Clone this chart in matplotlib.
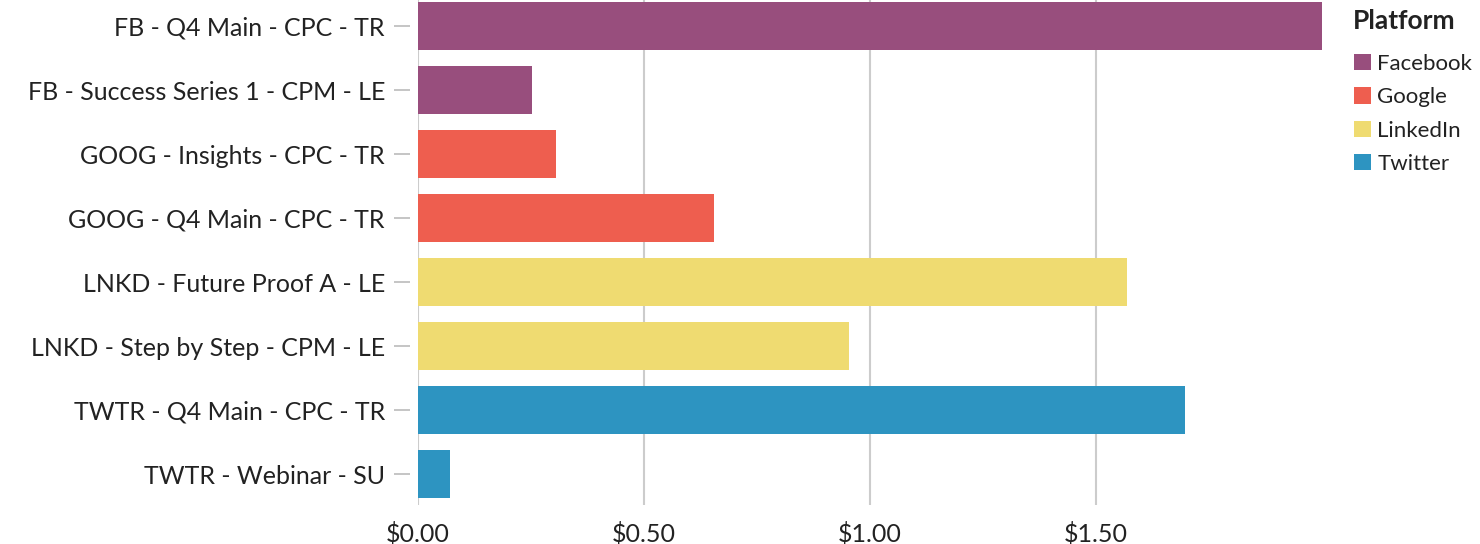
import matplotlib
matplotlib.use("Agg")
import matplotlib.pyplot as plt
from matplotlib.patches import Patch

campaigns = [
    "FB - Q4 Main - CPC - TR",
    "FB - Success Series 1 - CPM - LE",
    "GOOG - Insights - CPC - TR",
    "GOOG - Q4 Main - CPC - TR",
    "LNKD - Future Proof A - LE",
    "LNKD - Step by Step - CPM - LE",
    "TWTR - Q4 Main - CPC - TR",
    "TWTR - Webinar - SU",
]
values = [2.00, 0.252, 0.305, 0.654, 1.569, 0.954, 1.697, 0.071]
platforms = ["Facebook", "Facebook", "Google", "Google", "LinkedIn", "LinkedIn", "Twitter", "Twitter"]
platform_names = ["Facebook", "Google", "LinkedIn", "Twitter"]
platform_colors = {"Facebook": "#984E7D", "Google": "#EE5E4F", "LinkedIn": "#EFDB71", "Twitter": "#2D94C1"}
xticks = [0.0, 0.5, 1.0, 1.5]
xtick_labels = ["$0.00", "$0.50", "$1.00", "$1.50"]

plt.rcParams["font.family"] = ["Lato", "DejaVu Sans"]
text_color = "#222222"
px = 72 / 100  # points per pixel at dpi 100

fig = plt.figure(figsize=(14.8, 5.44), dpi=100)
ax = fig.add_axes([418 / 1480, 1 - 505 / 544, (1322 - 418) / 1480, 505 / 544])

ypos = list(range(len(campaigns)))
ax.barh(ypos, values, height=0.75, color=[platform_colors[p] for p in platforms], zorder=2)

ax.set_xlim(0, 2.0)
ax.set_ylim(7.48, -0.41)
ax.set_yticks(ypos)
ax.set_yticklabels(campaigns)
ax.set_xticks(xticks)
ax.set_xticklabels(xtick_labels)
ax.grid(axis="x", color="#cccccc", linewidth=1.5, zorder=0)
ax.set_axisbelow(True)
for s in ["top", "right", "bottom"]:
    ax.spines[s].set_visible(False)
ax.spines["left"].set_position(("outward", 8 * px))
ax.spines["left"].set_visible(False)
ax.tick_params(axis="y", length=16 * px, width=1.2, color="#bbbbbb", pad=9 * px, labelsize=18, labelcolor=text_color)
ax.tick_params(axis="x", length=0, pad=12, labelsize=18, labelcolor=text_color)

fig.text(1353 / 1480, 1 - 21 / 544, "Platform", fontsize=19, fontweight="bold",
         color=text_color, ha="left", va="center")

handles = [Patch(facecolor=platform_colors[p], edgecolor="none") for p in platform_names]
leg = fig.legend(handles, platform_names, loc="upper left",
                 bbox_to_anchor=(1354 / 1480, 1 - 54 / 544), frameon=False,
                 fontsize=16, handlelength=0.75, handleheight=0.75,
                 handletextpad=0.3, labelspacing=0.6, borderaxespad=0, borderpad=0)
for t in leg.get_texts():
    t.set_color(text_color)

fig.savefig("out.png", dpi=100)
